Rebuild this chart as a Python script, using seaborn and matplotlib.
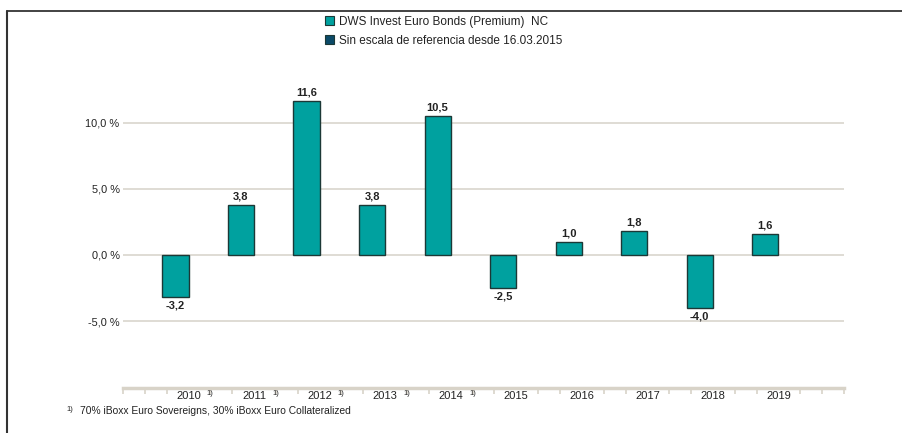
import numpy as np
import pandas as pd
import matplotlib
matplotlib.use('Agg')
import matplotlib.pyplot as plt
from matplotlib.patches import Patch
from matplotlib.lines import Line2D
import seaborn as sns

# data
years = ['2010', '2011', '2012', '2013', '2014', '2015', '2016', '2017', '2018', '2019']
fund_values = [-3.2, 3.8, 11.6, 3.8, 10.5, -2.5, 1.0, 1.8, -4.0, 1.6]
footnote_years = ['2010', '2011', '2012', '2013', '2014']
series_fund = 'DWS Invest Euro Bonds (Premium)  NC'
series_bench = 'Sin escala de referencia desde 16.03.2015'
y_ticks = [-5, 0, 5, 10]
footnote_text = '70% iBoxx Euro Sovereigns, 30% iBoxx Euro Collateralized'

teal = '#00a19f'
navy = '#0b4a68'
edge = '#1c3836'
grid_col = '#dcd9d1'
axis_col = '#d8d3c8'
text_col = '#222222'

df = pd.DataFrame({
    'year': years + years,
    'value': fund_values + [np.nan] * len(years),
    'series': [series_fund] * len(years) + [series_bench] * len(years),
})

sns.set_style('white')
plt.rcParams['font.family'] = ['Liberation Sans', 'DejaVu Sans']

fig = plt.figure(figsize=(9.03, 4.33), dpi=100)
ax = fig.add_axes([123 / 903, 1 - 387.5 / 433, 721 / 903, 331.25 / 433])

sns.barplot(data=df, x='year', y='value', hue='series', order=years,
            hue_order=[series_fund, series_bench],
            palette={series_fund: teal, series_bench: navy}, saturation=1,
            width=0.8, dodge=True, errorbar=None, legend=False,
            edgecolor=edge, linewidth=1.0, ax=ax, zorder=3)

# value labels
labels = [f'{v:.1f}'.replace('.', ',') for v in fund_values]
ax.bar_label(ax.containers[0], labels=labels, padding=2.5, fontsize=8,
             fontweight='bold', color=text_col)

ax.set_xlim(-1, len(years))
ax.set_ylim(-10, 15)

# y axis
ax.set_yticks(y_ticks)
ax.set_yticklabels([f'{t:.1f} %'.replace('.', ',') for t in y_ticks],
                   fontsize=7.9, color=text_col)
ax.tick_params(axis='y', left=False, length=0, pad=2.5)
for t in y_ticks:
    ax.axhline(t, color=grid_col, lw=1.3, zorder=1)

# x axis: small ticks every third of a category, none under the labels
n = len(years)
tick_pos = [j / 3 - 1 for j in range(3 * (n + 1) + 1) if j % 3 != 0 or j in (0, 3 * (n + 1))]
ax.set_xticks(tick_pos)
ax.set_xticklabels([''] * len(tick_pos))
ax.tick_params(axis='x', bottom=True, length=4.5, width=1.2, color=axis_col,
               direction='out', pad=0)
ax.set_xlabel('')
ax.set_ylabel('')

for s in ['top', 'right', 'left']:
    ax.spines[s].set_visible(False)
ax.spines['bottom'].set_color(axis_col)
ax.spines['bottom'].set_linewidth(2.5)

for i, yr in enumerate(years):
    ax.annotate(yr, xy=(i, 0), xycoords=('data', 'axes fraction'),
                xytext=(0, -2.5), textcoords='offset points',
                ha='center', va='top', fontsize=8, color=text_col)
    if yr in footnote_years:
        ax.annotate('1)', xy=(i + 0.33, 0), xycoords=('data', 'axes fraction'),
                    xytext=(0, -1.5), textcoords='offset points',
                    ha='center', va='top', fontsize=5.5, color=text_col)

# legend
handles = [Patch(facecolor=teal, edgecolor=edge, linewidth=0.8),
           Patch(facecolor=navy, edgecolor=edge, linewidth=0.8)]
fig.legend(handles, [series_fund, series_bench], loc='upper left',
           bbox_to_anchor=(325 / 903, 1 - 15.5 / 433), frameon=False,
           fontsize=8.5, handlelength=0.75, handleheight=0.75,
           handletextpad=0.45, labelspacing=0.62, borderpad=0, borderaxespad=0,
           labelcolor=text_col)

# footnote
fig.text(66 / 903, 1 - 409.5 / 433, '1)', fontsize=5.5, color=text_col, va='center')
fig.text(80 / 903, 1 - 410.5 / 433, footnote_text, fontsize=7.4, color=text_col, va='center')

# frame lines on top and left
fig.add_artist(Line2D([7 / 903, 1], [1 - 10.5 / 433] * 2, color='#222222', lw=1.2))
fig.add_artist(Line2D([7 / 903] * 2, [0, 1 - 10.5 / 433], color='#333333', lw=1.5))

fig.savefig('out.png', dpi=100)
